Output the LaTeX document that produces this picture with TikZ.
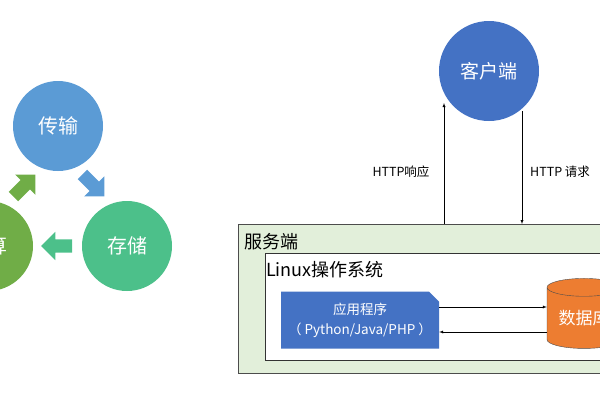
\documentclass[tikz,border=0pt]{standalone}
\usepackage{fontspec}
\setmainfont{Noto Sans CJK SC}
\usetikzlibrary{shapes.geometric,shapes.arrows,shapes.misc}
\definecolor{cblue}{HTML}{5B9BD5}
\definecolor{cteal}{HTML}{4CC08A}
\definecolor{colive}{HTML}{70AD47}
\definecolor{dblue}{HTML}{4472C4}
\definecolor{corange}{HTML}{ED7D31}
\definecolor{lgreen}{HTML}{E2EFDA}
\begin{document}
\begin{tikzpicture}[x=1pt,y=-1pt]
          \tikzstyle{ball}=[circle,inner sep=0,minimum size=90pt,text=white,font=\fontsize{20}{22}\selectfont];
          \tikzstyle{blockarrow}=[single arrow,inner sep=6.5pt,single arrow head extend=7.5pt,minimum height=31pt];
          \tikzstyle{line}=[draw=black,-{latex}];
          %\node (name) at (x,y) [style] {text};
          \useasboundingbox (0,0) rectangle (600,400);
          \clip (0,0) rectangle (600,400);
          % cycle on the left
          \node (trans) at (58,126) [ball,fill=cblue] {传输};
          \node (store) at (127,246) [ball,fill=cteal] {存储};
          \node (comp) at (-12,246) [ball,fill=colive] {计算};
          \node (a1) at (91,183) [blockarrow,fill=cblue,rotate=-45] {};
          \node (a2) at (60,246) [blockarrow,fill=cteal,rotate=180] {};
          \node (a3) at (22,188) [blockarrow,fill=colive,rotate=45] {};
          % client and server
          \node (client) at (489,71) [ball,minimum size=100pt,fill=dblue,font=\fontsize{19}{21}\selectfont] {客户端};
          \node (server) at (238,224) [anchor=north west,draw=gray!60!black,fill=lgreen,minimum width=400pt,minimum height=149pt,inner sep=0] {};
          \node (srvlabel) at (244,242) [anchor=west,inner sep=0,font=\fontsize{18}{20}\selectfont] {服务端};
          \node (os) at (265,253) [anchor=north west,draw=black!80,fill=white,minimum width=400pt,minimum height=107pt,inner sep=0] {};
          \node (oslabel) at (266,270) [anchor=west,inner sep=0,font=\fontsize{18}{20}\selectfont] {Linux操作系统};
          \node (app) at (360,320) [chamfered rectangle,chamfered rectangle corners=north east,chamfered rectangle xsep=5pt,chamfered rectangle ysep=5pt,fill=dblue,text=white,minimum width=158pt,minimum height=57pt,inner sep=0,align=center,font=\fontsize{13.5}{20}\selectfont] {应用程序\\（ Python/Java/PHP ）};
          \node (db) at (584,318) [cylinder,shape border rotate=90,aspect=0.35,draw=gray!60!black,fill=corange,text=white,minimum width=74pt,minimum height=70pt,inner sep=0,font=\fontsize{17}{20}\selectfont] {数据库};
          \coordinate (resp) at (444,103);
          \coordinate (req) at (522,111);
          \draw[line] (server.north -| resp)--(resp);
          \draw[line] (req)--(server.north -| req);
          \node (lresp) at (401,172) [font=\fontsize{12.5}{14}\selectfont] {HTTP响应};
          \node (lreq) at (530,172) [anchor=west,inner sep=0,font=\fontsize{12.5}{14}\selectfont] {HTTP 请求};
          \draw[line] (app.east |- 0,307)--(db.west |- 0,307);
          \draw[line] (db.west |- 0,332)--(app.east |- 0,332);
      \end{tikzpicture}
\end{document}
